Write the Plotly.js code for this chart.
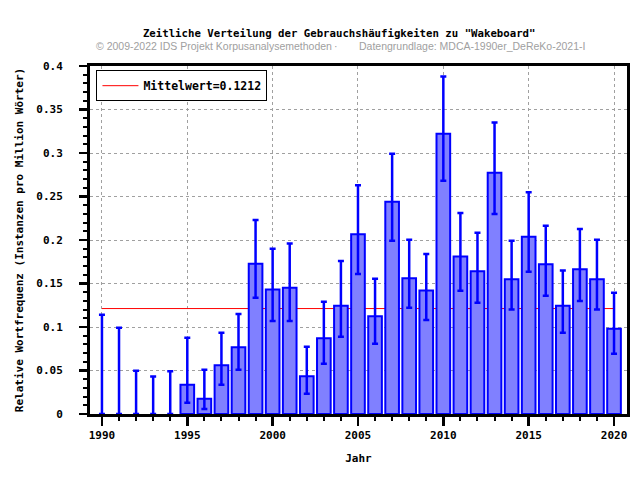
<!DOCTYPE html>
<html>
<head>
<meta charset="utf-8">
<script src="https://cdn.plot.ly/plotly-3.0.1.min.js"></script>
<style>html,body{margin:0;padding:0;background:#fff;}#chart{width:640px;height:480px;}</style>
</head>
<body>
<div id="chart"></div>
<script>
const years = [1990,1991,1992,1993,1994,1995,1996,1997,1998,1999,2000,2001,2002,2003,2004,2005,2006,2007,2008,2009,2010,2011,2012,2013,2014,2015,2016,2017,2018,2019,2020];
const values = [0,0,0,0,0,0.0337,0.0176,0.056,0.0766,0.1728,0.143,0.145,0.0433,0.087,0.1245,0.2065,0.1123,0.244,0.156,0.142,0.322,0.181,0.164,0.2774,0.1548,0.2038,0.172,0.1245,0.1663,0.1548,0.098];
const upper = [0.114,0.099,0.0498,0.043,0.049,0.0877,0.051,0.0935,0.115,0.223,0.19,0.196,0.0774,0.129,0.176,0.263,0.1555,0.299,0.2003,0.184,0.388,0.231,0.2084,0.335,0.199,0.255,0.2165,0.1648,0.2126,0.2003,0.1394];
const lower = [0,0,0,0,0,0.013,0.0057,0.0337,0.051,0.1337,0.107,0.107,0.0234,0.0579,0.0889,0.161,0.0808,0.199,0.122,0.108,0.268,0.1418,0.128,0.230,0.12,0.1636,0.136,0.0935,0.130,0.12,0.0693];
const meanValue = 0.1212;
const meanX = [1990, 2020];
const xTickVals = [1990,1995,2000,2005,2010,2015,2020];
const yTickVals = [0,0.05,0.1,0.15,0.2,0.25,0.3,0.35,0.4];
const yTickText = ['0','0.05','0.1','0.15','0.2','0.25','0.3','0.35','0.4'];

const errPlus = values.map((v,i)=>upper[i]-v);
const errMinus = values.map((v,i)=>v-lower[i]);
const outlineWidths = values.map(v => v > 0 ? 2 : 0);

const mono = '"DejaVu Sans Mono", monospace';

const meanTrace = {
  type:'scatter', mode:'lines', x: meanX, y: [meanValue, meanValue],
  line:{color:'#ff0000', width:1}, name:'Mittelwert=' + meanValue.toFixed(4),
  xaxis:'x', yaxis:'y', showlegend:true, hoverinfo:'skip'
};
const barTrace = {
  type:'bar', x: years, y: values, width:0.8,
  marker:{color:'#8080ff', line:{color:'#0000ff', width: outlineWidths}},
  error_y:{type:'data', symmetric:false, array: errPlus, arrayminus: errMinus, color:'#0000ff', thickness:2.5, width:3},
  xaxis:'x', yaxis:'y2', showlegend:false
};

const yBase = {
  range:[0,0.4], tickvals: yTickVals, ticktext: yTickText,
  ticks:'outside', ticklen:8, tickwidth:2.5, tickcolor:'#000',
  showline:true, linecolor:'#000', linewidth:3, mirror:true,
  tickfont:{family:mono, size:11, color:'#000', weight:'bold'},
  zeroline:false, fixedrange:true
};

const layout = {
  width:640, height:480,
  margin:{l:90, r:13, t:66, b:66},
  paper_bgcolor:'#fff', plot_bgcolor:'#fff',
  showlegend:true,
  legend:{x:0.012, y:0.988, xanchor:'left', yanchor:'top', bgcolor:'#fff', bordercolor:'#000', borderwidth:1,
    font:{family:mono, size:11.5, color:'#000', weight:'bold'}, itemwidth:36},
  title:{text:'Zeitliche Verteilung der Gebrauchshäufigkeiten zu "Wakeboard"', x:0.53, xanchor:'center', y:0.93, yanchor:'middle',
    font:{family:mono, size:10.7, color:'#000', weight:'bold'}},
  xaxis:{
    range:[1989.3, 2020.76], tickvals: xTickVals, ticks:'outside', ticklen:9, tickwidth:2.5, tickcolor:'#000',
    minor:{dtick:1, tick0:1990, ticks:'outside', ticklen:4, tickwidth:2, tickcolor:'#000', showgrid:false},
    showline:true, linecolor:'#000', linewidth:3, mirror:true,
    showgrid:true, gridcolor:'#a0a0a0', griddash:'dot', gridwidth:1,
    tickfont:{family:mono, size:11, color:'#000', weight:'bold'},
    title:{text:'Jahr', font:{family:mono, size:11, color:'#000', weight:'bold'}, standoff:14},
    zeroline:false, fixedrange:true
  },
  yaxis: Object.assign({}, yBase, {
    showgrid:true, gridcolor:'#a0a0a0', griddash:'dot', gridwidth:1,
    minor:{dtick:0.01, tick0:0, ticks:'outside', ticklen:4, tickwidth:2, tickcolor:'#000', showgrid:false},
    ticklabelstandoff:14,
    title:{text:'Relative Wortfrequenz (Instanzen pro Million Wörter)', font:{family:mono, size:11, color:'#000', weight:'bold'}, standoff:11}
  }),
  yaxis2: Object.assign({}, yBase, {overlaying:'y', side:'left', showgrid:false, showline:false, ticks:'', showticklabels:false}),
  annotations:[
    {text:'© 2009-2022 IDS Projekt Korpusanalysemethoden', xref:'paper', yref:'paper', x:(94-90)/537, xanchor:'left', y:1.0+ (66-46)/348, yanchor:'middle', showarrow:false,
      font:{family:'"Liberation Sans", Arial, sans-serif', size:10.5, color:'#a0a0a0'}},
    {text:'·', xref:'paper', yref:'paper', x:(336-90)/537, xanchor:'center', y:1.0+ (66-46)/348, yanchor:'middle', showarrow:false,
      font:{family:'"Liberation Sans", Arial, sans-serif', size:10.5, color:'#a0a0a0'}},
    {text:'Datengrundlage: MDCA-1990er_DeReKo-2021-I', xref:'paper', yref:'paper', x:(357-90)/537, xanchor:'left', y:1.0+ (66-46)/348, yanchor:'middle', showarrow:false,
      font:{family:'"Liberation Sans", Arial, sans-serif', size:10.5, color:'#a0a0a0'}}
  ]
};

Plotly.newPlot('chart', [meanTrace, barTrace], layout, {displayModeBar:false, staticPlot:true});
</script>
</body>
</html>
